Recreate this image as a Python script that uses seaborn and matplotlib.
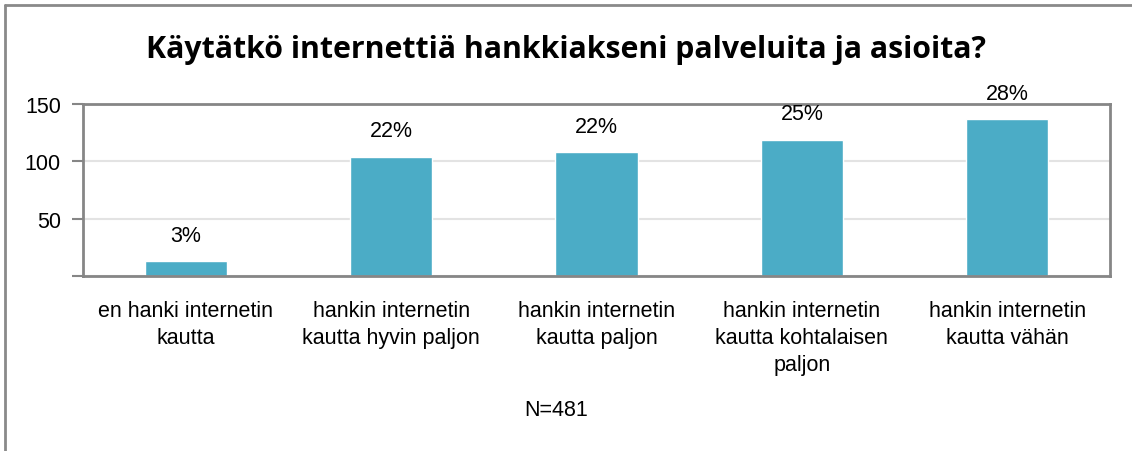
import matplotlib
matplotlib.use('Agg')
import matplotlib.pyplot as plt
import seaborn as sns
import pandas as pd
from matplotlib.lines import Line2D

# Data
categories = ['en hanki internetin\nkautta',
              'hankin internetin\nkautta hyvin paljon',
              'hankin internetin\nkautta paljon',
              'hankin internetin\nkautta kohtalaisen\npaljon',
              'hankin internetin\nkautta vähän']
counts = [13, 104, 108, 119, 137]
pct_labels = ['3%', '22%', '22%', '25%', '28%']
y_ticks = [0, 50, 100, 150]
y_tick_labels = ['', '50', '100', '150']
title = 'Käytätkö internettiä hankkiakseni palveluita ja asioita?'
note = 'N=481'

df = pd.DataFrame({'Kategoria': categories, 'Lukumäärä': counts})

sns.set_style('white')
plt.rcParams['font.family'] = ['Liberation Sans', 'DejaVu Sans']
plt.rcParams['text.color'] = 'black'
plt.rcParams['xtick.color'] = 'black'
plt.rcParams['ytick.color'] = 'black'

fig = plt.figure(figsize=(11.32, 4.52), dpi=100)
ax = fig.add_axes([0.0733, 0.3872, 0.9073, 0.3805])

sns.barplot(data=df, x='Kategoria', y='Lukumäärä', color='#4BACC6',
            saturation=1, width=0.4, ax=ax)

# percentage labels above bars
for bar, lab in zip(ax.patches, pct_labels):
    ax.annotate(lab, (bar.get_x() + bar.get_width() / 2, bar.get_height()),
                xytext=(0, 11), textcoords='offset points',
                ha='center', va='bottom', fontsize=15.5, color='black')

ax.set_ylim(0, 150)
ax.set_xlim(-0.5, len(categories) - 0.5)
ax.set_yticks(y_ticks)
ax.set_yticklabels(y_tick_labels, fontsize=15.5)
ax.yaxis.grid(True, color='#e3e3e3', linewidth=1.5)
ax.set_axisbelow(True)

# x ticks at category boundaries
ax.set_xticks(range(len(categories)))
ax.set_xticklabels(categories, fontsize=15.5, linespacing=1.4)
ax.tick_params(axis='x', length=0, pad=17)
ax.set_xticks([i - 0.5 for i in range(len(categories) + 1)], minor=True)
ax.tick_params(axis='x', which='minor', length=9, color='#868686', width=1.5, direction='out')
ax.tick_params(axis='y', length=8, color='#868686', width=1.5, direction='out', left=True, pad=8)
ax.set_xlabel('')
ax.set_ylabel('')

for s in ax.spines.values():
    s.set_color('#868686')
    s.set_linewidth(2)
    s.set_visible(True)

fig.text(0.5, 0.89, title, ha='center', va='center', fontsize=21.8,
         fontweight='bold', family=['Open Sans', 'DejaVu Sans'])
fig.text(0.491, 0.092, note, ha='center', va='center', fontsize=15.5)

# outer chart border (top and left visible)
fig.add_artist(Line2D([0.0045, 1.0], [0.987, 0.987], transform=fig.transFigure,
                      color='#8a8a8a', linewidth=2))
fig.add_artist(Line2D([0.0045, 0.0045], [0.0, 0.987], transform=fig.transFigure,
                      color='#8a8a8a', linewidth=2))

fig.savefig('out.png', dpi=100, facecolor='white')
